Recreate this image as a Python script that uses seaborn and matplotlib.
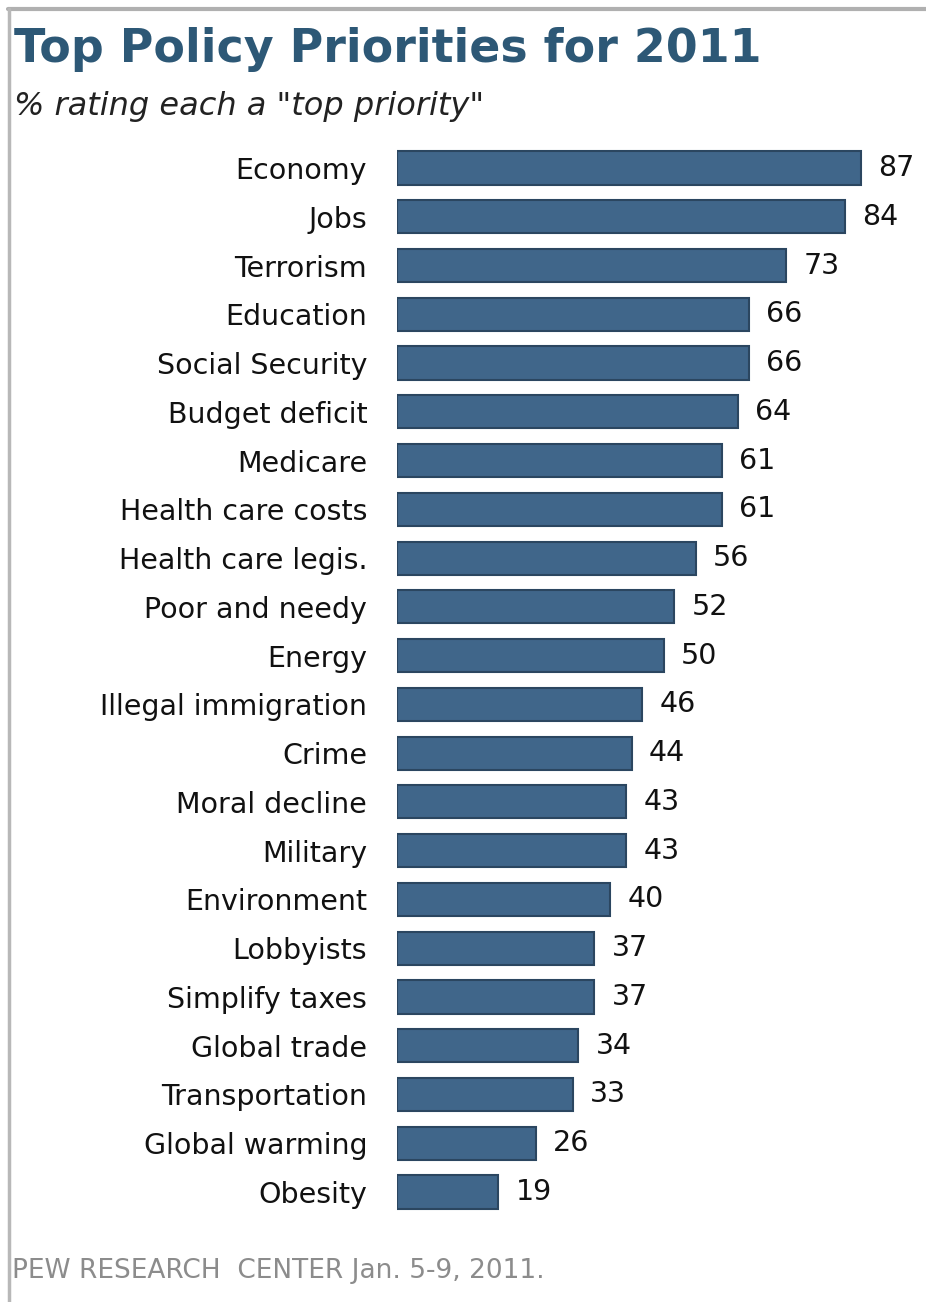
import matplotlib
matplotlib.use("Agg")
import matplotlib.pyplot as plt
import seaborn as sns
import pandas as pd

# Survey results: share rating each issue a "top priority"
priorities = [
    "Economy", "Jobs", "Terrorism", "Education", "Social Security",
    "Budget deficit", "Medicare", "Health care costs", "Health care legis.",
    "Poor and needy", "Energy", "Illegal immigration", "Crime",
    "Moral decline", "Military", "Environment", "Lobbyists",
    "Simplify taxes", "Global trade", "Transportation", "Global warming",
    "Obesity",
]
percent_top = [87, 84, 73, 66, 66, 64, 61, 61, 56, 52, 50, 46, 44, 43, 43,
               40, 37, 37, 34, 33, 26, 19]

df = pd.DataFrame({"priority": priorities, "pct": percent_top})

sns.set_theme(style="white")
plt.rcParams["font.family"] = ["DejaVu Sans"]

W, H = 926, 1302
fig = plt.figure(figsize=(W / 100, H / 100), dpi=100)
fig.patch.set_facecolor("white")

ax_left, ax_right = 397, 926
ax_top, ax_bottom = 143.6, 1216.4
ax = fig.add_axes([ax_left / W, 1 - ax_bottom / H,
                   (ax_right - ax_left) / W, (ax_bottom - ax_top) / H])

bar_color = "#40668a"
sns.barplot(data=df, x="pct", y="priority", orient="h", ax=ax,
            color=bar_color, saturation=1, width=0.68,
            edgecolor="#2b4660", linewidth=1.5)

ax.set_xlim(0, (ax_right - ax_left) / 5.333)
ax.set_ylim(len(priorities) - 0.5, -0.5)
ax.set_xlabel("")
ax.set_ylabel("")
ax.set_xticks([])
for s in ax.spines.values():
    s.set_visible(False)
ax.tick_params(axis="y", length=0, pad=21.5, labelsize=20.5,
               labelcolor="#111111")

# value labels next to each bar
for i, v in enumerate(percent_top):
    ax.text(v + 3.2, i, f"{v}", va="center", ha="left",
            fontsize=20.5, color="#111111")

# frame lines at top and left
fig.add_artist(plt.Line2D([8 / W, 1.0], [1 - 9 / H, 1 - 9 / H],
                          color="#b0b0b0", linewidth=3))
fig.add_artist(plt.Line2D([9 / W, 9 / W], [0, 1 - 9 / H],
                          color="#b8b8b8", linewidth=2.5))

fig.text(14 / W, 1 - 50 / H, "Top Policy Priorities for 2011",
         fontsize=33, fontweight="bold", color="#2d5876", va="center",
         ha="left")
fig.text(14 / W, 1 - 106 / H, "% rating each a \"top priority\"",
         fontsize=23, fontstyle="italic", color="#222222", va="center",
         ha="left")
fig.text(12 / W, 1 - 1271 / H, "PEW RESEARCH  CENTER Jan. 5-9, 2011.",
         fontsize=19, color="#8c8c8c", va="center", ha="left")

fig.savefig("out.png", dpi=100, facecolor="white")
